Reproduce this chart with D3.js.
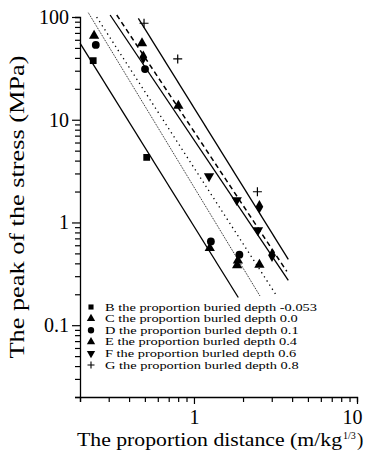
<!DOCTYPE html>
<html>
<head>
<meta charset="utf-8">
<script src="https://cdn.jsdelivr.net/npm/d3@7"></script>
<style>
  html, body { margin: 0; padding: 0; background: #fff; }
  svg { display: block; }
  svg text { font-family: "Liberation Serif", "Times New Roman", Times, "DejaVu Serif", serif; }
</style>
</head>
<body>
<svg id="chart" width="365" height="455"></svg>
<script>
// Scaled distance (m/kg^1/3) and peak stress (MPa) for each buried depth
const seriesNames = [
  "B the proportion buried depth -0.053",
  "C the proportion burled depth 0.0",
  "D the proportion burled depth 0.1",
  "E the proportion burled depth 0.4",
  "F the proportion burled depth 0.6",
  "G the proportion burled depth 0.8"
];
const legendSymbols = ["square", "triangle", "circle", "triangle", "triangleDown", "cross"];
const pointSymbols  = ["square", "triangle", "circle", "diamond", "triangleDown", "cross"];

const bX = [0.241, 0.513];
const bY = [37.6, 4.3];
const cX = [0.244, 0.480, 0.802, 1.25, 1.86, 1.84, 2.52];
const cY = [65.8, 55.6, 13.7, 0.563, 0.425, 0.383, 0.388];
const dX = [0.250, 0.501, 1.27, 1.90];
const dY = [53.5, 31.1, 0.654, 0.486];
const eX = [0.489, 2.52, 3.01];
const eY = [40.6, 1.42, 0.48];
const fX = [1.237, 1.83, 2.47];
const fY = [2.82, 1.65, 0.84];
const gX = [0.494, 0.795, 2.45];
const gY = [86.9, 39.1, 1.99];

// Fitted power-law lines: start and end points in data units
const fitX0 = [0.2, 0.225, 0.253, 0.306, 0.336, 0.456];
const fitY0 = [55.6, 110, 100, 104.6, 104.6, 97.1];
const fitX1 = [1.87, 2.54, 3.22, 3.79, 3.71, 3.79];
const fitY1 = [0.186, 0.1925, 0.1925, 0.2735, 0.334, 0.437];
const fitStyles = ["solid", "fine", "dotted", "solid", "dashed", "solid"];

const xTickLabels = ["1", "10"];
const yTickLabels = ["0.1", "1", "10", "100"];

const serif = "'Liberation Serif', 'Times New Roman', Times, 'DejaVu Serif', serif";
const svg = d3.select("#chart");
const x = d3.scaleLog().domain([0.2, 10]).range([80, 357]);
const y = d3.scaleLog().domain([0.02, 100]).range([397, 17]);

// log ticks: every integer multiple within each decade
function logTicks(lo, hi) {
  const out = [];
  for (let e = -3; e <= 3; e++) {
    for (let m = 1; m <= 9; m++) {
      const v = +(m * Math.pow(10, e)).toPrecision(6);
      if (v >= lo * 0.999 && v <= hi * 1.001) out.push(v);
    }
  }
  return out;
}
const isMajor = v => Math.abs(Math.log10(v) - Math.round(Math.log10(v))) < 1e-6;

// x axis
const xAxis = svg.append("g").attr("transform", "translate(0,397)")
  .call(d3.axisBottom(x).tickValues(logTicks(0.2, 10))
    .tickSize(5).tickPadding(6)
    .tickFormat(v => xTickLabels.includes(String(v)) ? String(v) : ""));
xAxis.attr("font-family", serif);
xAxis.select(".domain").attr("stroke", "#000").attr("stroke-width", 1.3);
xAxis.selectAll(".tick line").attr("stroke", "#000").attr("stroke-width", 1.2)
  .attr("y2", d => isMajor(d) ? 7 : 5);
xAxis.selectAll(".tick text").attr("font-size", 20).attr("fill", "#000")
  .attr("dy", "0.8em")
  .attr("text-anchor", d => d === 10 ? "end" : "middle")
  .attr("dx", d => d === 10 ? 5 : 0);

// y axis
const yAxis = svg.append("g").attr("transform", "translate(80,0)")
  .call(d3.axisLeft(y).tickValues(logTicks(0.02, 100))
    .tickSize(5).tickPadding(6)
    .tickFormat(v => yTickLabels.includes(String(v)) ? String(v) : ""));
yAxis.attr("font-family", serif);
yAxis.select(".domain").attr("stroke", "#000").attr("stroke-width", 1.3);
yAxis.selectAll(".tick line").attr("stroke", "#000").attr("stroke-width", 1.2)
  .attr("x2", d => isMajor(d) ? -8 : -5);
yAxis.selectAll(".tick text").attr("font-size", 20).attr("fill", "#000")
  .attr("x", -11);

// fitted lines
const dashFor = { solid: null, fine: "1,1", dotted: "1.3,3.6", dashed: "5,3.5" };
const widthFor = { solid: 1.3, fine: 0.9, dotted: 1.3, dashed: 1.5 };
const lineGen = d3.line().x(d => x(d[0])).y(d => y(d[1]));
fitX0.forEach((_, i) => {
  svg.append("path")
    .attr("d", lineGen([[fitX0[i], fitY0[i]], [fitX1[i], fitY1[i]]]))
    .attr("fill", "none").attr("stroke", "#000")
    .attr("stroke-width", widthFor[fitStyles[i]])
    .attr("stroke-dasharray", dashFor[fitStyles[i]]);
});

// marker drawing
function drawMarker(g, kind, cx, cy) {
  if (kind === "cross") {
    g.append("path")
      .attr("d", `M${cx - 4.5},${cy}H${cx + 4.5}M${cx},${cy - 4.5}V${cy + 4.5}`)
      .attr("stroke", "#000").attr("stroke-width", 1.2).attr("fill", "none");
    return;
  }
  const types = {
    square: [d3.symbolSquare, 46, 0],
    triangle: [d3.symbolTriangle, 46, 0],
    triangleDown: [d3.symbolTriangle, 46, 180],
    circle: [d3.symbolCircle, 48, 0],
    diamond: [d3.symbolDiamond, 52, 0]
  };
  const [t, s, r] = types[kind];
  g.append("path").attr("d", d3.symbol().type(t).size(s)())
    .attr("transform", `translate(${cx},${cy}) rotate(${r})`)
    .attr("fill", "#000");
}

const seriesX = [bX, cX, dX, eX, fX, gX];
const seriesY = [bY, cY, dY, eY, fY, gY];
const pts = svg.append("g");
seriesX.forEach((xs, i) => {
  xs.forEach((xv, j) => drawMarker(pts, pointSymbols[i], x(xv), y(seriesY[i][j])));
});

// legend: text is widened a little beyond its natural width
const legend = svg.append("g").attr("font-family", serif);
const legendTexts = [];
seriesNames.forEach((name, i) => {
  const ly = 307 + i * 11.6;
  const k = legendSymbols[i];
  const lg = legend.append("g");
  if (k === "cross") {
    lg.append("path").attr("d", `M${87.5},${ly}H${94.5}M${91},${ly - 3.5}V${ly + 3.5}`)
      .attr("stroke", "#000").attr("stroke-width", 1.1);
  } else {
    const t = { square: [d3.symbolSquare, 26, 0], triangle: [d3.symbolTriangle, 30, 0],
      triangleDown: [d3.symbolTriangle, 30, 180], circle: [d3.symbolCircle, 32, 0] }[k];
    lg.append("path").attr("d", d3.symbol().type(t[0]).size(t[1])())
      .attr("transform", `translate(91,${ly}) rotate(${t[2]})`).attr("fill", "#000");
  }
  legendTexts.push(lg.append("text").attr("x", 105).attr("y", ly).attr("dy", "0.33em")
    .attr("font-size", 11).attr("fill", "#000").text(name));
});
const stretch = 212 / legendTexts[0].node().getComputedTextLength();
legendTexts.forEach(t => {
  const w = t.node().getComputedTextLength();
  t.attr("textLength", w * stretch).attr("lengthAdjust", "spacingAndGlyphs");
});

// x axis title with a superscript exponent
svg.append("text").attr("x", 77).attr("y", 446)
  .attr("font-size", 19).attr("fill", "#000")
  .attr("textLength", 265).attr("lengthAdjust", "spacingAndGlyphs")
  .text("The proportion distance (m/kg");
svg.append("text").attr("x", 343).attr("y", 439)
  .attr("font-size", 10).attr("fill", "#000").text("1/3");
svg.append("text").attr("x", 357).attr("y", 446)
  .attr("font-size", 19).attr("fill", "#000").text(")");

// y axis title
svg.append("text")
  .attr("transform", "translate(24,207) rotate(-90)")
  .attr("text-anchor", "middle")
  .attr("font-size", 20).attr("fill", "#000")
  .attr("textLength", 303).attr("lengthAdjust", "spacingAndGlyphs")
  .text("The peak of the stress (MPa)");
</script>
</body>
</html>
